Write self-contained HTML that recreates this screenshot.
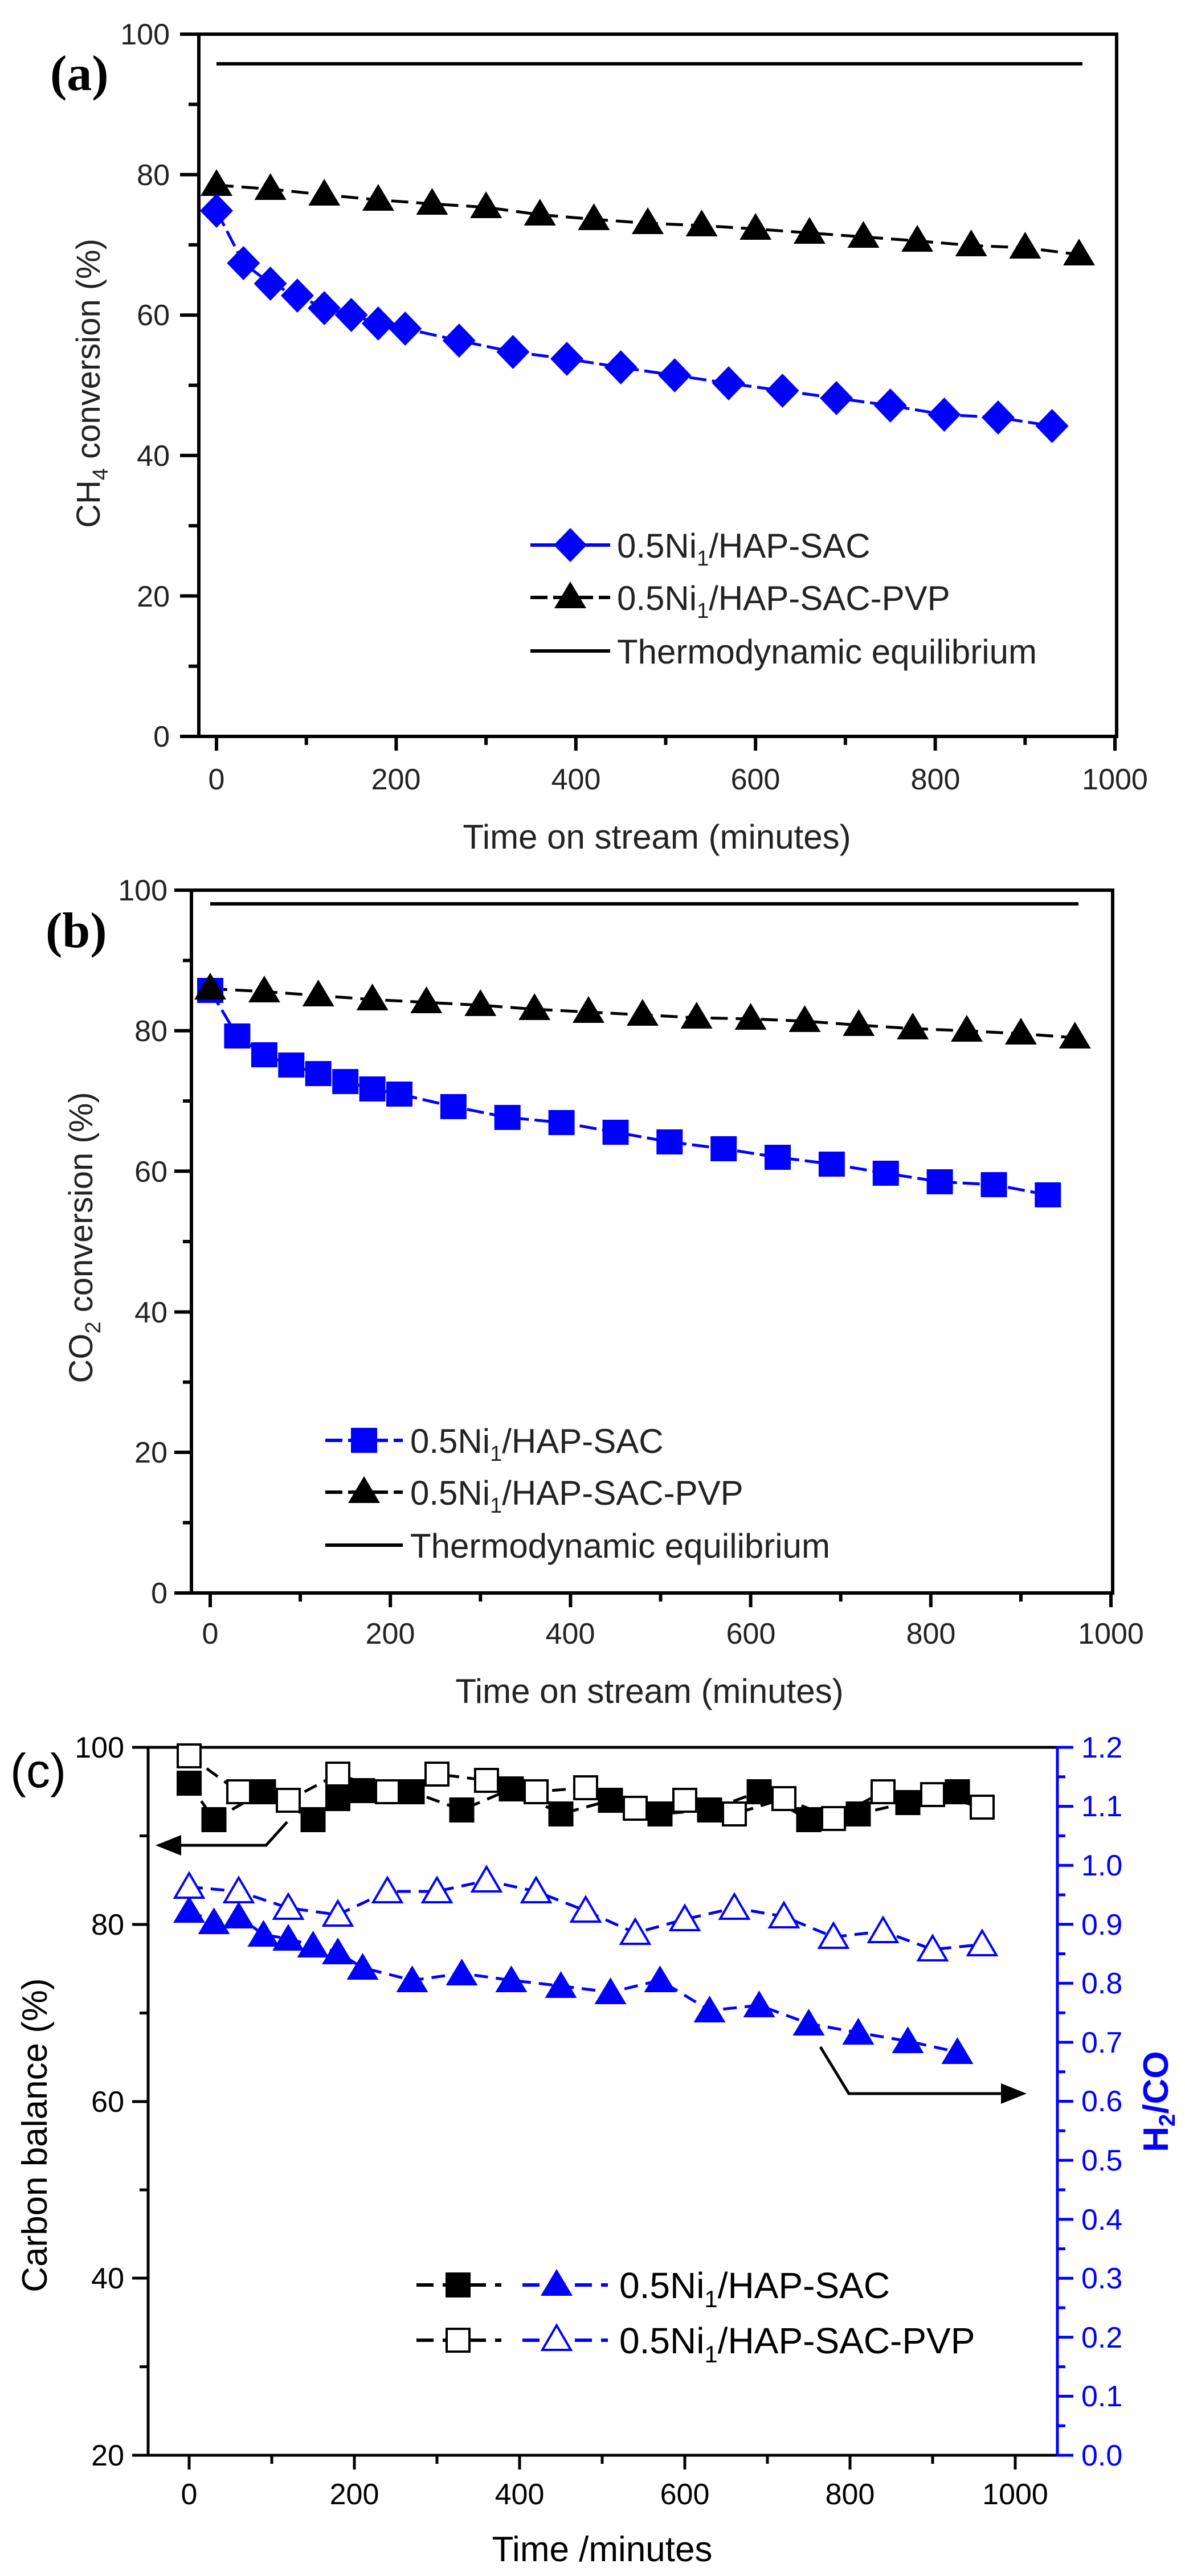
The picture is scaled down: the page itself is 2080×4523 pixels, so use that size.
<!DOCTYPE html>
<html><head><meta charset="utf-8"><style>body{margin:0;background:#fff}svg{display:block}</style></head><body>
<svg width="2080" height="4523" viewBox="0 0 2080 4523" xmlns="http://www.w3.org/2000/svg" font-family="Liberation Sans, Arial, sans-serif">
<defs>
<polygon id="tri" points="0,-28 28,19 -28,19" fill="#000"/>
<polygon id="dia" points="0,-30 29,0 0,30 -29,0" fill="#0000ff"/>
<rect id="sqb" x="-23" y="-22" width="46" height="44" fill="#0000ff"/>
<rect id="sqf" x="-22" y="-22" width="44" height="44" fill="#000"/>
<rect id="sqo" x="-20" y="-20" width="40" height="40" fill="#fff" stroke="#000" stroke-width="4"/>
<polygon id="trif" points="0,-26 28,21 -28,21" fill="#0000ff"/>
<polygon id="trio" points="0,-24 25,19 -25,19" fill="#fff" stroke="#0000ff" stroke-width="4"/>
</defs>

<!-- ================= PANEL A ================= -->
<rect x="349" y="60" width="1611" height="1233" fill="none" stroke="#000" stroke-width="6"/>
<g stroke="#000" stroke-width="6">
<path d="M349 1293H316M349 1046.4H316M349 799.8H316M349 553.2H316M349 306.6H316M349 60H316"/>
<path d="M349 1169.7H331M349 923.1H331M349 676.5H331M349 429.9H331M349 183.3H331"/>
<path d="M380 1293V1318M695.4 1293V1318M1010.8 1293V1318M1326.2 1293V1318M1641.6 1293V1318M1957 1293V1318"/>
<path d="M537.7 1293V1308M853.1 1293V1308M1168.5 1293V1308M1483.9 1293V1308M1799.3 1293V1308"/>
</g>
<g font-size="52" text-anchor="end" fill="#222">
<text x="298" y="1311">0</text><text x="298" y="1065">20</text><text x="298" y="818">40</text><text x="298" y="571">60</text><text x="298" y="325">80</text><text x="298" y="78">100</text>
</g>
<g font-size="52" text-anchor="middle" fill="#222">
<text x="380" y="1386">0</text><text x="695" y="1386">200</text><text x="1011" y="1386">400</text><text x="1326" y="1386">600</text><text x="1642" y="1386">800</text><text x="1957" y="1386">1000</text>
</g>
<text x="1153" y="1490" font-size="60" text-anchor="middle" fill="#222">Time on stream (minutes)</text>
<text transform="translate(175,673) rotate(-90)" font-size="58" text-anchor="middle" fill="#222">CH<tspan font-size="38" dy="14">4</tspan><tspan dy="-14"> conversion (%)</tspan></text>
<text x="88" y="158" font-family="Liberation Serif, serif" font-weight="bold" font-size="88">(a)</text>
<line x1="380" y1="112" x2="1900" y2="112" stroke="#000" stroke-width="6"/>
<polyline fill="none" stroke="#000" stroke-width="5" stroke-dasharray="30 14" points="380,325 474.6,332 569.2,342 663.9,351 758.5,358 853.1,364 947.7,377 1042.4,385 1137,392 1231.6,396 1326.2,402 1420.9,409 1515.5,416 1610.1,423 1704.7,431 1799.4,435 1894,447"/>
<polyline fill="none" stroke="#0000ff" stroke-width="5" stroke-dasharray="30 10" points="380,370 427.3,462 474.6,498 521.9,519 569.2,541 616.6,553 663.9,568 711.2,577 805.8,598 900.4,618 995,630 1089.7,645 1184.3,659 1278.9,673 1373.5,686 1468.1,699 1562.8,712 1657.4,728 1752,733 1846.6,748"/>
<g>
<use href="#tri" x="380" y="325"/><use href="#tri" x="474.6" y="332"/><use href="#tri" x="569.2" y="342"/><use href="#tri" x="663.9" y="351"/><use href="#tri" x="758.5" y="358"/><use href="#tri" x="853.1" y="364"/><use href="#tri" x="947.7" y="377"/><use href="#tri" x="1042.4" y="385"/><use href="#tri" x="1137" y="392"/><use href="#tri" x="1231.6" y="396"/><use href="#tri" x="1326.2" y="402"/><use href="#tri" x="1420.9" y="409"/><use href="#tri" x="1515.5" y="416"/><use href="#tri" x="1610.1" y="423"/><use href="#tri" x="1704.7" y="431"/><use href="#tri" x="1799.4" y="435"/><use href="#tri" x="1894" y="447"/>
<use href="#dia" x="380" y="370"/><use href="#dia" x="427.3" y="462"/><use href="#dia" x="474.6" y="498"/><use href="#dia" x="521.9" y="519"/><use href="#dia" x="569.2" y="541"/><use href="#dia" x="616.6" y="553"/><use href="#dia" x="663.9" y="568"/><use href="#dia" x="711.2" y="577"/><use href="#dia" x="805.8" y="598"/><use href="#dia" x="900.4" y="618"/><use href="#dia" x="995" y="630"/><use href="#dia" x="1089.7" y="645"/><use href="#dia" x="1184.3" y="659"/><use href="#dia" x="1278.9" y="673"/><use href="#dia" x="1373.5" y="686"/><use href="#dia" x="1468.1" y="699"/><use href="#dia" x="1562.8" y="712"/><use href="#dia" x="1657.4" y="728"/><use href="#dia" x="1752" y="733"/><use href="#dia" x="1846.6" y="748"/>
</g>
<!-- legend a -->
<line x1="931" y1="957" x2="1071" y2="957" stroke="#0000ff" stroke-width="6"/><use href="#dia" x="1001" y="957"/>
<line x1="931" y1="1049" x2="1071" y2="1049" stroke="#000" stroke-width="6" stroke-dasharray="30 10"/><use href="#tri" x="1001" y="1049"/>
<line x1="931" y1="1143" x2="1071" y2="1143" stroke="#000" stroke-width="6"/>
<g font-size="60" fill="#222">
<text x="1083" y="979">0.5Ni<tspan font-size="38" dy="14">1</tspan><tspan dy="-14">/HAP-SAC</tspan></text>
<text x="1083" y="1071">0.5Ni<tspan font-size="38" dy="14">1</tspan><tspan dy="-14">/HAP-SAC-PVP</tspan></text>
<text x="1083" y="1165">Thermodynamic equilibrium</text>
</g>

<!-- ================= PANEL B ================= -->
<rect x="336" y="1563" width="1617" height="1234" fill="none" stroke="#000" stroke-width="6"/>
<g stroke="#000" stroke-width="6">
<path d="M336 2797H306M336 2550H306M336 2303.6H306M336 2056.4H306M336 1809.8H306M336 1563H306"/>
<path d="M336 2673.5H321M336 2426.8H321M336 2180H321M336 1933.1H321M336 1686.4H321"/>
<path d="M369 2797V2822M685.2 2797V2822M1001.4 2797V2822M1317.6 2797V2822M1633.8 2797V2822M1950 2797V2822"/>
<path d="M527.1 2797V2812M843.3 2797V2812M1159.5 2797V2812M1475.7 2797V2812M1791.9 2797V2812"/>
</g>
<g font-size="52" text-anchor="end" fill="#222">
<text x="294" y="2815">0</text><text x="294" y="2568">20</text><text x="294" y="2322">40</text><text x="294" y="2075">60</text><text x="294" y="1828">80</text><text x="294" y="1581">100</text>
</g>
<g font-size="52" text-anchor="middle" fill="#222">
<text x="369" y="2886">0</text><text x="685" y="2886">200</text><text x="1001" y="2886">400</text><text x="1318" y="2886">600</text><text x="1634" y="2886">800</text><text x="1950" y="2886">1000</text>
</g>
<text x="1140" y="2990" font-size="60" text-anchor="middle" fill="#222">Time on stream (minutes)</text>
<text transform="translate(162,2173) rotate(-90)" font-size="58" text-anchor="middle" fill="#222">CO<tspan font-size="38" dy="14">2</tspan><tspan dy="-14"> conversion (%)</tspan></text>
<text x="80" y="1663" font-family="Liberation Serif, serif" font-weight="bold" font-size="88">(b)</text>
<line x1="369" y1="1587" x2="1893" y2="1587" stroke="#000" stroke-width="6"/>
<polyline fill="none" stroke="#000" stroke-width="5" stroke-dasharray="30 14" points="369,1736 463.9,1741 558.7,1748 653.6,1755 748.4,1760 843.3,1765 938.2,1772 1033,1777 1127.9,1782 1222.7,1787 1317.6,1789 1412.5,1793 1507.3,1800 1602.2,1806 1697,1810 1791.9,1815 1886.8,1822"/>
<polyline fill="none" stroke="#0000ff" stroke-width="5" stroke-dasharray="30 10" points="369,1739 416.4,1819 463.9,1852 511.3,1870 558.7,1885 606.2,1899 653.6,1912 701,1921 795.9,1943 890.7,1962 985.6,1971 1080.5,1988 1175.3,2005 1270.2,2017 1365,2032 1459.9,2044 1554.8,2060 1649.6,2075 1744.5,2080 1839.3,2098"/>
<g>
<use href="#sqb" x="369" y="1739"/><use href="#sqb" x="416.4" y="1819"/><use href="#sqb" x="463.9" y="1852"/><use href="#sqb" x="511.3" y="1870"/><use href="#sqb" x="558.7" y="1885"/><use href="#sqb" x="606.2" y="1899"/><use href="#sqb" x="653.6" y="1912"/><use href="#sqb" x="701" y="1921"/><use href="#sqb" x="795.9" y="1943"/><use href="#sqb" x="890.7" y="1962"/><use href="#sqb" x="985.6" y="1971"/><use href="#sqb" x="1080.5" y="1988"/><use href="#sqb" x="1175.3" y="2005"/><use href="#sqb" x="1270.2" y="2017"/><use href="#sqb" x="1365" y="2032"/><use href="#sqb" x="1459.9" y="2044"/><use href="#sqb" x="1554.8" y="2060"/><use href="#sqb" x="1649.6" y="2075"/><use href="#sqb" x="1744.5" y="2080"/><use href="#sqb" x="1839.3" y="2098"/>
<use href="#tri" x="369" y="1736"/><use href="#tri" x="463.9" y="1741"/><use href="#tri" x="558.7" y="1748"/><use href="#tri" x="653.6" y="1755"/><use href="#tri" x="748.4" y="1760"/><use href="#tri" x="843.3" y="1765"/><use href="#tri" x="938.2" y="1772"/><use href="#tri" x="1033" y="1777"/><use href="#tri" x="1127.9" y="1782"/><use href="#tri" x="1222.7" y="1787"/><use href="#tri" x="1317.6" y="1789"/><use href="#tri" x="1412.5" y="1793"/><use href="#tri" x="1507.3" y="1800"/><use href="#tri" x="1602.2" y="1806"/><use href="#tri" x="1697" y="1810"/><use href="#tri" x="1791.9" y="1815"/><use href="#tri" x="1886.8" y="1822"/>
</g>
<!-- legend b -->
<line x1="571" y1="2529" x2="707" y2="2529" stroke="#0000ff" stroke-width="6" stroke-dasharray="30 10"/><use href="#sqb" x="639" y="2529"/>
<line x1="571" y1="2620" x2="707" y2="2620" stroke="#000" stroke-width="6" stroke-dasharray="30 10"/><use href="#tri" x="639" y="2620"/>
<line x1="571" y1="2713" x2="707" y2="2713" stroke="#000" stroke-width="6"/>
<g font-size="60" fill="#222">
<text x="720" y="2551">0.5Ni<tspan font-size="38" dy="14">1</tspan><tspan dy="-14">/HAP-SAC</tspan></text>
<text x="720" y="2642">0.5Ni<tspan font-size="38" dy="14">1</tspan><tspan dy="-14">/HAP-SAC-PVP</tspan></text>
<text x="720" y="2735">Thermodynamic equilibrium</text>
</g>

<!-- ================= PANEL C ================= -->
<line x1="260" y1="3068" x2="1856" y2="3068" stroke="#000" stroke-width="5"/>
<line x1="260" y1="4311" x2="1856" y2="4311" stroke="#000" stroke-width="5"/>
<line x1="260" y1="3066" x2="260" y2="4313" stroke="#000" stroke-width="5"/>
<line x1="1856" y1="3066" x2="1856" y2="4313" stroke="#0000ff" stroke-width="5"/>
<g stroke="#000" stroke-width="5">
<path d="M260 4311H232M260 4000H232M260 3690H232M260 3379H232M260 3068H232"/>
<path d="M260 4155.6H245M260 3845H245M260 3534.5H245M260 3223.5H245"/>
<path d="M332 4311V4336M622 4311V4336M912 4311V4336M1202 4311V4336M1492 4311V4336M1782 4311V4336"/>
<path d="M477 4311V4326M767 4311V4326M1057 4311V4326M1347 4311V4326M1637 4311V4326"/>
</g>
<g stroke="#0000ff" stroke-width="5">
<path d="M1856 4311H1884M1856 4207.4H1884M1856 4103.8H1884M1856 4000.3H1884M1856 3896.7H1884M1856 3793.1H1884M1856 3689.5H1884M1856 3585.9H1884M1856 3482.3H1884M1856 3378.7H1884M1856 3275.2H1884M1856 3171.6H1884M1856 3068H1884"/>
<path d="M1856 4259.2H1870M1856 4155.6H1870M1856 4052H1870M1856 3948.5H1870M1856 3844.9H1870M1856 3741.3H1870M1856 3637.7H1870M1856 3534.1H1870M1856 3430.5H1870M1856 3327H1870M1856 3223.4H1870M1856 3119.8H1870"/>
</g>
<g font-size="52" text-anchor="end" fill="#000">
<text x="218" y="4329">20</text><text x="218" y="4018">40</text><text x="218" y="3708">60</text><text x="218" y="3397">80</text><text x="218" y="3086">100</text>
</g>
<g font-size="52" fill="#0000ff">
<text x="1898" y="4329">0.0</text><text x="1898" y="4225">0.1</text><text x="1898" y="4122">0.2</text><text x="1898" y="4018">0.3</text><text x="1898" y="3915">0.4</text><text x="1898" y="3811">0.5</text><text x="1898" y="3707">0.6</text><text x="1898" y="3604">0.7</text><text x="1898" y="3500">0.8</text><text x="1898" y="3397">0.9</text><text x="1898" y="3293">1.0</text><text x="1898" y="3189">1.1</text><text x="1898" y="3086">1.2</text>
</g>
<g font-size="52" text-anchor="middle" fill="#000">
<text x="332" y="4397">0</text><text x="622" y="4397">200</text><text x="912" y="4397">400</text><text x="1202" y="4397">600</text><text x="1492" y="4397">800</text><text x="1782" y="4397">1000</text>
</g>
<text x="1057" y="4497" font-size="62" text-anchor="middle" fill="#000">Time /minutes</text>
<text transform="translate(82,3749) rotate(-90)" font-size="62" text-anchor="middle" fill="#000">Carbon balance (%)</text>
<text transform="translate(2050,3690) rotate(-90)" font-size="62" font-weight="bold" text-anchor="middle" fill="#0000ff">H<tspan font-size="40" dy="12">2</tspan><tspan dy="-12">/CO</tspan></text>
<text x="18" y="3138" font-size="84" fill="#000">(c)</text>
<!-- arrows -->
<polyline points="504,3199 467,3240 300,3240" fill="none" stroke="#000" stroke-width="5"/>
<polygon points="273,3240 318,3222 318,3258" fill="#000"/>
<polyline points="1440,3594 1490,3676 1775,3676" fill="none" stroke="#000" stroke-width="5"/>
<polygon points="1802,3676 1757,3658 1757,3694" fill="#000"/>
<!-- lines -->
<polyline fill="none" stroke="#000" stroke-width="5" stroke-dasharray="24 14" points="332,3131 375.5,3195 462.5,3146 549.5,3195 593,3158 636.5,3144 723.5,3146 810.5,3178 897.5,3141 984.5,3185 1071.5,3161 1158.5,3185 1245.5,3178 1332.5,3146 1419.5,3195 1506.5,3185 1593.5,3165 1680.5,3146"/>
<polyline fill="none" stroke="#000" stroke-width="5" stroke-dasharray="24 14" points="332,3083 419,3146 506,3161 593,3115 680,3146 767,3115 854,3126 941,3146 1028,3139 1115,3175 1202,3161 1289,3185 1376,3158 1463,3193 1550,3146 1637,3151 1724,3173"/>
<polyline fill="none" stroke="#0000ff" stroke-width="5" stroke-dasharray="24 14" points="332,3355 375.5,3375 419,3365 462.5,3397 506,3404 549.5,3416 593,3428 636.5,3455 723.5,3477 810.5,3465 897.5,3477 984.5,3487 1071.5,3498 1158.5,3477 1245.5,3530 1332.5,3521 1419.5,3553 1506.5,3569 1593.5,3584 1680.5,3603"/>
<polyline fill="none" stroke="#0000ff" stroke-width="5" stroke-dasharray="24 14" points="332,3313 419,3321 506,3350 593,3362 680,3321 767,3321 854,3302 941,3321 1028,3355 1115,3394 1202,3370 1289,3350 1376,3365 1463,3401 1550,3391 1637,3423 1724,3414"/>
<g>
<use href="#sqf" x="332" y="3131"/><use href="#sqf" x="375.5" y="3195"/><use href="#sqf" x="462.5" y="3146"/><use href="#sqf" x="549.5" y="3195"/><use href="#sqf" x="593" y="3158"/><use href="#sqf" x="636.5" y="3144"/><use href="#sqf" x="723.5" y="3146"/><use href="#sqf" x="810.5" y="3178"/><use href="#sqf" x="897.5" y="3141"/><use href="#sqf" x="984.5" y="3185"/><use href="#sqf" x="1071.5" y="3161"/><use href="#sqf" x="1158.5" y="3185"/><use href="#sqf" x="1245.5" y="3178"/><use href="#sqf" x="1332.5" y="3146"/><use href="#sqf" x="1419.5" y="3195"/><use href="#sqf" x="1506.5" y="3185"/><use href="#sqf" x="1593.5" y="3165"/><use href="#sqf" x="1680.5" y="3146"/>
<use href="#sqo" x="332" y="3083"/><use href="#sqo" x="419" y="3146"/><use href="#sqo" x="506" y="3161"/><use href="#sqo" x="593" y="3115"/><use href="#sqo" x="680" y="3146"/><use href="#sqo" x="767" y="3115"/><use href="#sqo" x="854" y="3126"/><use href="#sqo" x="941" y="3146"/><use href="#sqo" x="1028" y="3139"/><use href="#sqo" x="1115" y="3175"/><use href="#sqo" x="1202" y="3161"/><use href="#sqo" x="1289" y="3185"/><use href="#sqo" x="1376" y="3158"/><use href="#sqo" x="1463" y="3193"/><use href="#sqo" x="1550" y="3146"/><use href="#sqo" x="1637" y="3151"/><use href="#sqo" x="1724" y="3173"/>
<use href="#trif" x="332" y="3355"/><use href="#trif" x="375.5" y="3375"/><use href="#trif" x="419" y="3365"/><use href="#trif" x="462.5" y="3397"/><use href="#trif" x="506" y="3404"/><use href="#trif" x="549.5" y="3416"/><use href="#trif" x="593" y="3428"/><use href="#trif" x="636.5" y="3455"/><use href="#trif" x="723.5" y="3477"/><use href="#trif" x="810.5" y="3465"/><use href="#trif" x="897.5" y="3477"/><use href="#trif" x="984.5" y="3487"/><use href="#trif" x="1071.5" y="3498"/><use href="#trif" x="1158.5" y="3477"/><use href="#trif" x="1245.5" y="3530"/><use href="#trif" x="1332.5" y="3521"/><use href="#trif" x="1419.5" y="3553"/><use href="#trif" x="1506.5" y="3569"/><use href="#trif" x="1593.5" y="3584"/><use href="#trif" x="1680.5" y="3603"/>
<use href="#trio" x="332" y="3313"/><use href="#trio" x="419" y="3321"/><use href="#trio" x="506" y="3350"/><use href="#trio" x="593" y="3362"/><use href="#trio" x="680" y="3321"/><use href="#trio" x="767" y="3321"/><use href="#trio" x="854" y="3302"/><use href="#trio" x="941" y="3321"/><use href="#trio" x="1028" y="3355"/><use href="#trio" x="1115" y="3394"/><use href="#trio" x="1202" y="3370"/><use href="#trio" x="1289" y="3350"/><use href="#trio" x="1376" y="3365"/><use href="#trio" x="1463" y="3401"/><use href="#trio" x="1550" y="3391"/><use href="#trio" x="1637" y="3423"/><use href="#trio" x="1724" y="3414"/>
</g>
<!-- legend c -->
<line x1="731" y1="4012" x2="880" y2="4012" stroke="#000" stroke-width="6" stroke-dasharray="30 16"/><use href="#sqf" x="804" y="4012"/>
<line x1="917" y1="4012" x2="1067" y2="4012" stroke="#0000ff" stroke-width="6" stroke-dasharray="30 16"/><use href="#trif" x="977" y="4010"/>
<line x1="731" y1="4109" x2="880" y2="4109" stroke="#000" stroke-width="6" stroke-dasharray="30 16"/><use href="#sqo" x="804" y="4109"/>
<line x1="917" y1="4109" x2="1067" y2="4109" stroke="#0000ff" stroke-width="6" stroke-dasharray="30 16"/><use href="#trio" x="977" y="4107"/>
<g font-size="64" fill="#000">
<text x="1087" y="4035">0.5Ni<tspan font-size="42" dy="16">1</tspan><tspan dy="-16">/HAP-SAC</tspan></text>
<text x="1087" y="4132">0.5Ni<tspan font-size="42" dy="16">1</tspan><tspan dy="-16">/HAP-SAC-PVP</tspan></text>
</g>
</svg>
</body></html>
